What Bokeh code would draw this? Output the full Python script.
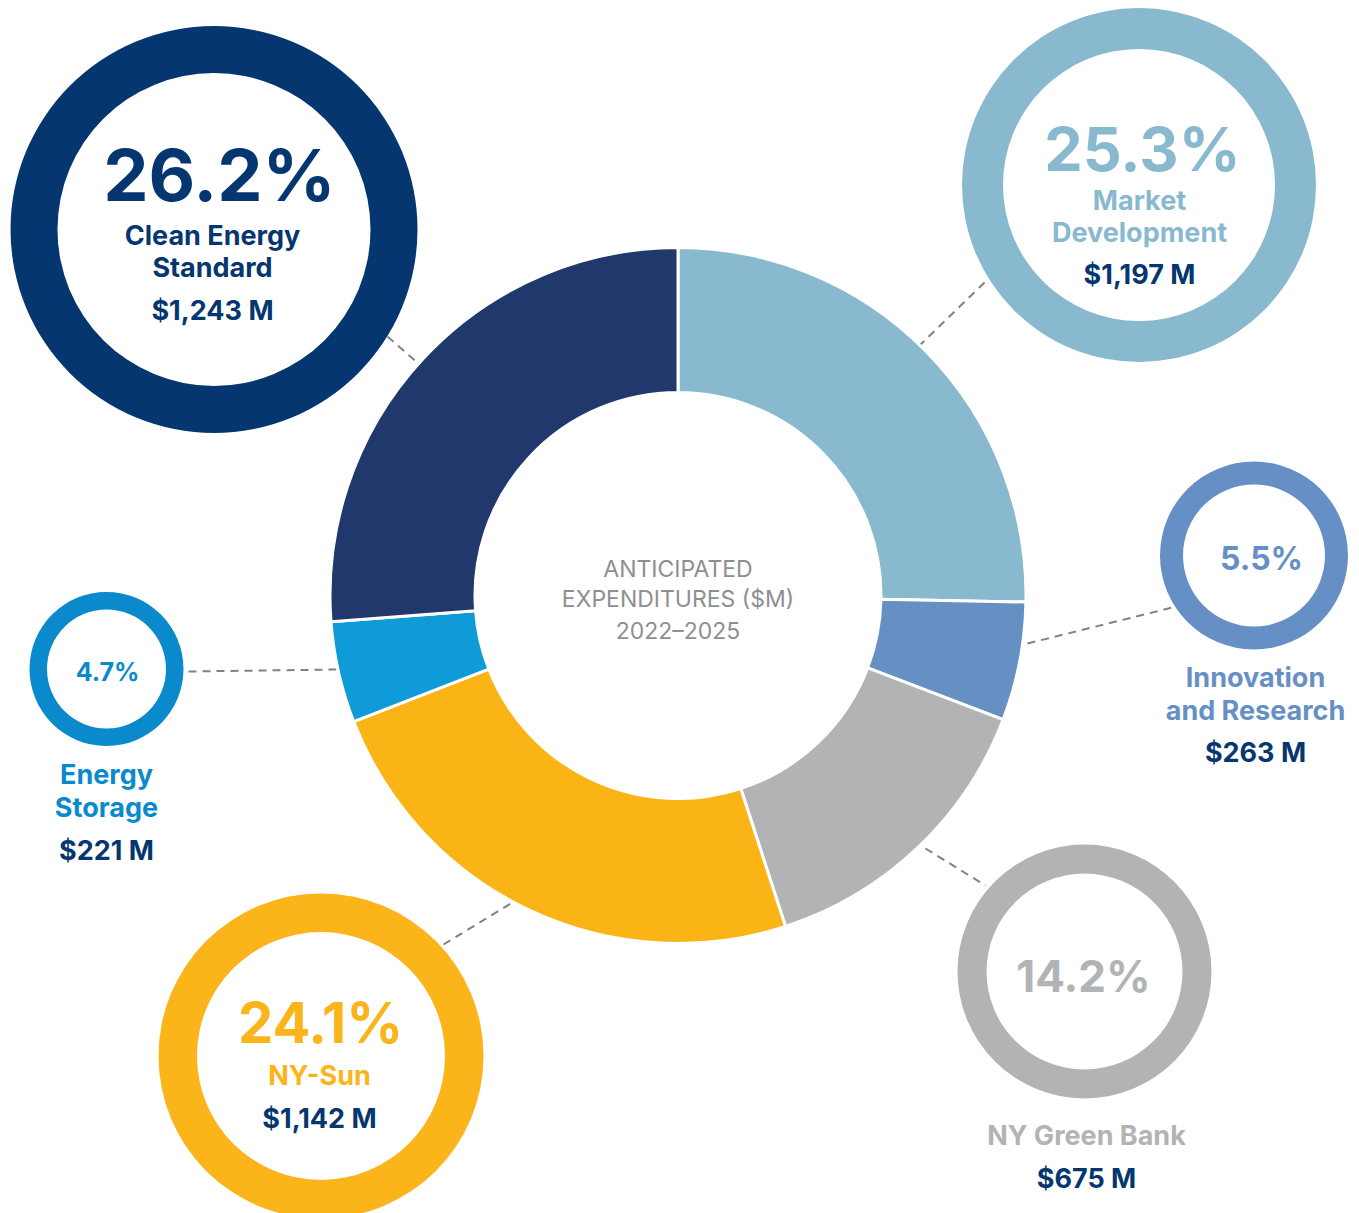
import numpy as np
from bokeh.plotting import figure
from bokeh.models import Range1d
from bokeh.core.properties import value
from bokeh.embed import file_html
from bokeh.resources import INLINE

# ---------------- data ----------------
programs = ["Market Development", "Innovation and Research", "NY Green Bank",
            "NY-Sun", "Energy Storage", "Clean Energy Standard"]
shares = [25.3, 5.5, 14.2, 24.1, 4.7, 26.2]          # percent of total
amounts = [1197, 263, 675, 1142, 221, 1243]           # $ M
label_lines = [["Market", "Development"], ["Innovation", "and Research"], ["NY Green Bank"],
               ["NY-Sun"], ["Energy", "Storage"], ["Clean Energy", "Standard"]]
center_title = ["ANTICIPATED", "EXPENDITURES ($M)", "2022\u20132025"]

# ---------------- styles ----------------
NAVY = "#05366f"
GREY_LINE = "#808285"
slice_colors = ["#88b9cf", "#6690c4", "#b2b3b5", "#fbb416", "#0e9bd7", "#21386d"]
ring_colors = ["#88b9cf", "#6690c5", "#b1b3b4", "#fbb41a", "#0a89cc", "#05366f"]
FONT = value("Inter")
MID = 0.36   # baseline -> middle offset (fraction of font size)
LABEL_SIZE = 27

# ---------------- layout (screen pixel positions) ----------------
W, H = 1359, 1213
DONUT = dict(cx=677.5, cy=595, ro=348, ri=203)
layout = [
    dict(cx=1138.5, cy=184.5, ro=177, ri=136, px=1142, py=170, ps=61, lx=1139, ly=[210, 242], ay=284,
         link=((918, 346), (986, 280))),
    dict(cx=1253.5, cy=555, ro=94, ri=71, px=1261, py=570, ps=32, lx=1255, ly=[687, 720], ay=762,
         link=((1027, 643), (1180, 605))),
    dict(cx=1084, cy=971, ro=127, ri=98, px=1083, py=991, ps=44, lx=1086, ly=[1145], ay=1188,
         link=((925, 848), (985, 885))),
    dict(cx=320.5, cy=1055.5, ro=162.5, ri=124, px=320, py=1043, ps=56, lx=319, ly=[1085], ay=1128,
         link=((443, 944), (512, 902))),
    dict(cx=106, cy=668.5, ro=77, ri=59.5, px=107, py=680, ps=25, lx=106, ly=[784, 817], ay=860,
         link=((188, 671), (337, 669))),
    dict(cx=213.5, cy=229, ro=203.5, ri=156.5, px=219, py=200, ps=72, lx=212, ly=[245, 277], ay=320,
         link=((387, 336), (419, 364))),
]


def Y(sy):
    return H - sy


def text_at(x, baseline, txt, size, color, bold=True):
    p.text(x=[x], y=[Y(baseline - MID * size)], text=[txt], text_font=FONT,
           text_font_style="bold" if bold else "normal", text_font_size=f"{size}px",
           text_color=color, text_align="center", text_baseline="middle")


p = figure(width=W, height=H, x_range=Range1d(0, W), y_range=Range1d(0, H),
           x_axis_type=None, y_axis_type=None, toolbar_location=None,
           output_backend="svg", min_border=0)
p.outline_line_color = None
p.grid.visible = False
p.background_fill_color = "white"
p.border_fill_color = "white"

# connectors
for lay in layout:
    (x0, y0), (x1, y1) = lay["link"]
    p.line([x0, x1], [Y(y0), Y(y1)], line_color=GREY_LINE, line_width=2, line_dash="8 6")

# donut
fr = np.array(shares) / sum(shares)
cum = np.concatenate([[0], np.cumsum(fr)])
start = np.pi / 2 - 2 * np.pi * cum[:-1]
end = np.pi / 2 - 2 * np.pi * cum[1:]
p.annular_wedge(x=DONUT["cx"], y=Y(DONUT["cy"]), inner_radius=DONUT["ri"], outer_radius=DONUT["ro"],
                start_angle=start, end_angle=end, direction="clock",
                fill_color=slice_colors, line_color="white", line_width=3)

for i, t in enumerate(center_title):
    text_at(DONUT["cx"], [577, 607, 639][i], t, 23, "#8d8f92", bold=False)

# bubbles
for i, lay in enumerate(layout):
    p.annulus(x=lay["cx"], y=Y(lay["cy"]), inner_radius=lay["ri"], outer_radius=lay["ro"],
              fill_color=ring_colors[i], line_color=None)
    text_at(lay["px"], lay["py"], f"{shares[i]:.1f}%", lay["ps"], ring_colors[i])
    for line, ly in zip(label_lines[i], lay["ly"]):
        text_at(lay["lx"], ly, line, LABEL_SIZE, ring_colors[i])
    text_at(lay["lx"], lay["ay"], f"${amounts[i]:,} M", LABEL_SIZE, NAVY)

open("out.html", "w").write(file_html(p, INLINE))
